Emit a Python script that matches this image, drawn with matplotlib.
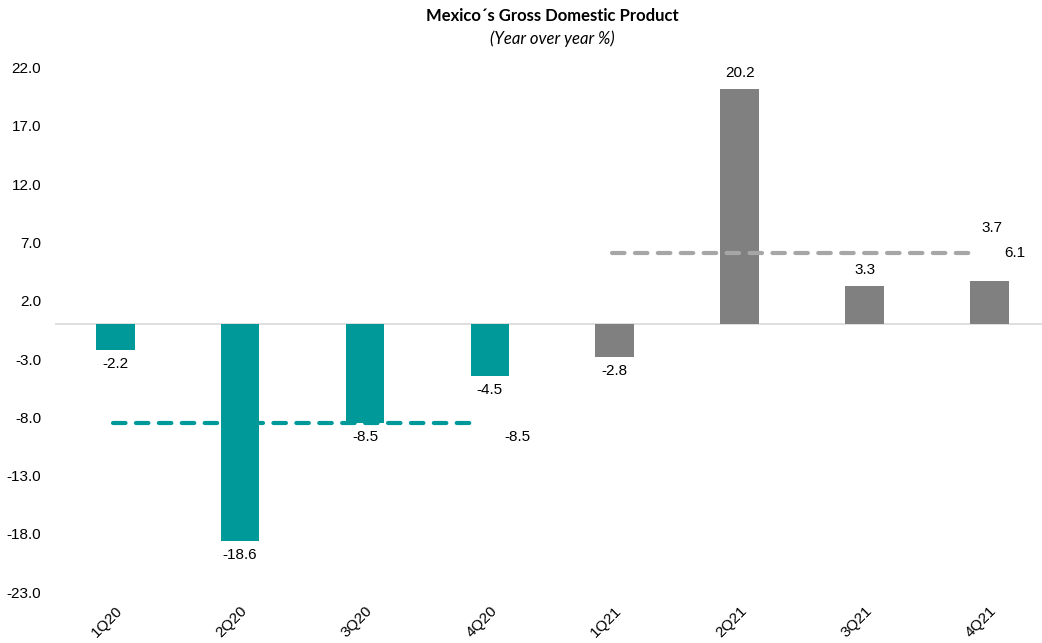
import matplotlib.pyplot as plt

trimestres = ['1Q20', '2Q20', '3Q20', '4Q20', '1Q21', '2Q21', '3Q21', '4Q21']
valores = [-2.2, -18.6, -8.5, -4.5, -2.8, 20.2, 3.3, 3.7]
cores = ['#009999'] * 4 + ['#808080'] * 4
media_2020 = -8.5
media_2021 = 6.1
yticks = [-23.0, -18.0, -13.0, -8.0, -3.0, 2.0, 7.0, 12.0, 17.0, 22.0]

plt.rcParams['font.family'] = ['Liberation Sans', 'DejaVu Sans']

fig = plt.figure(figsize=(10.42, 6.43), dpi=100)
ax = fig.add_axes([0.053, 0.079, 0.947, 0.816])

x = list(range(len(trimestres)))
ax.bar(x, valores, width=0.31, color=cores, zorder=3)
ax.axhline(0, color='#d9d9d9', linewidth=1.2, zorder=1)

# linhas de media
ax.plot([-0.02, 2.9], [media_2020, media_2020], color='#009999', linestyle=(0, (3, 2.5)),
        linewidth=3, dash_capstyle='round', zorder=4)
ax.plot([3.98, 6.9], [media_2021, media_2021], color='#a6a6a6', linestyle=(0, (3, 2.5)),
        linewidth=3, dash_capstyle='round', zorder=4)
ax.text(3.22, media_2020 - 1.2, f'{media_2020:.1f}', ha='center', va='center', fontsize=11)
ax.text(7.2, media_2021, f'{media_2021:.1f}', ha='center', va='center', fontsize=11)

# rotulos das barras
for i, v in enumerate(valores):
    if i == 7:
        ax.text(7.02, v + 4.5, f'{v:.1f}', ha='center', va='center', fontsize=11)
    elif v < 0:
        ax.text(i, v - 1.2, f'{v:.1f}', ha='center', va='center', fontsize=11)
    else:
        ax.text(i, v + 1.3, f'{v:.1f}', ha='center', va='center', fontsize=11)

ax.set_xlim(-0.48, 7.42)
ax.set_ylim(-23, 22)
ax.set_yticks(yticks)
ax.set_yticklabels([f'{t:.1f}' for t in yticks], fontsize=11)
ax.set_xticks(x)
ax.set_xticklabels(trimestres, rotation=45, ha='right', rotation_mode='anchor', fontsize=11)
ax.tick_params(axis='y', length=0, pad=10)
ax.tick_params(axis='x', length=0, pad=8)
for s in ax.spines.values():
    s.set_visible(False)

fig.text(0.53, 0.975, 'Mexico´s Gross Domestic Product', ha='center', va='center',
         fontsize=12, fontweight='bold', family=['Lato', 'DejaVu Sans'])
fig.text(0.53, 0.94, '(Year over year %)', ha='center', va='center',
         fontsize=12, style='italic', family=['Lato', 'DejaVu Sans'])

plt.savefig('out.png', format='png')
